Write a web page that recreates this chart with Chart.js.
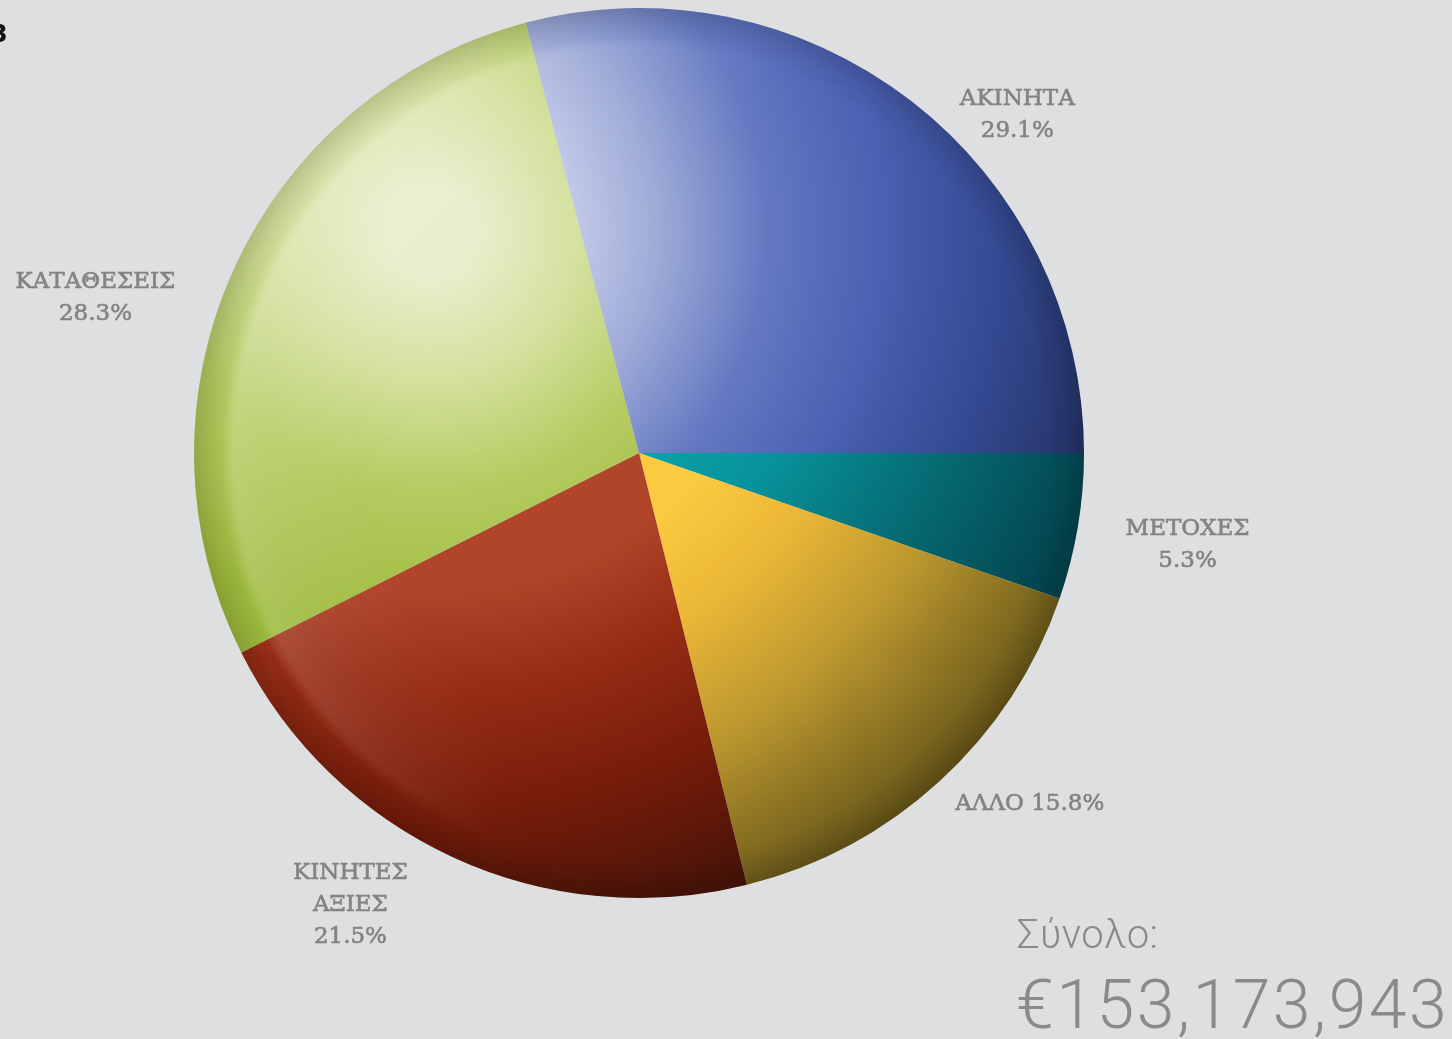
<!DOCTYPE html>
<html>
<head>
<meta charset="utf-8">
<script src="https://cdn.jsdelivr.net/npm/chart.js@4.4.1/dist/chart.umd.min.js"></script>
<style>
  html, body { margin: 0; padding: 0; background: #dedfe1; overflow: hidden; }
  #wrap { position: relative; width: 1452px; height: 1039px; }
  #myChart { position: absolute; left: 0; top: 0; }
  .corner { position: absolute; left: -9px; top: 20px; font: bold 24px "DejaVu Sans"; color: #111; }
  .total1 { position: absolute; left: 1017px; top: 911px; font: 300 40px Roboto, "Noto Sans"; color: #8a8a8a; letter-spacing: 0.5px; }
  .total2 { position: absolute; left: 1016px; top: 965px; font: 300 68px Roboto, "Noto Sans"; color: #8a8a8a; letter-spacing: 2.5px; }
</style>
</head>
<body>
<div id="wrap">
  <canvas id="myChart" width="1452" height="1039"></canvas>
  <div class="corner">3</div>
  <div class="total1">Σύνολο:</div>
  <div class="total2">€153,173,943</div>
</div>
<script>
// categories, clockwise from 3 o'clock
var categories = [['ΜΕΤΟΧΕΣ'], ['ΑΛΛΟ'], ['ΚΙΝΗΤΕΣ', 'ΑΞΙΕΣ'], ['ΚΑΤΑΘΕΣΕΙΣ'], ['ΑΚΙΝΗΤΑ']];
var shares = [5.3, 15.8, 21.5, 28.3, 29.1];

// gradient stops per slice, measured from the highlight point outward
var sliceStops = [
    [[0.40, '#0aa2a8'], [0.55, '#08929a'], [0.72, '#067078'], [0.95, '#03444e']],
    [[0.48, '#fccb40'], [0.62, '#ebb737'], [0.78, '#bc982f'], [1.0, '#675719']],
    [[0.48, '#b0452a'], [0.62, '#962c14'], [0.78, '#761c0a'], [0.95, '#4a1408']],
    [[0.06, '#e8efcd'], [0.2, '#d4e19e'], [0.35, '#b5cb60'], [0.55, '#9dba3c']],
    [[0.18, '#c5cdea'], [0.30, '#a0acd8'], [0.45, '#6479c1'], [0.60, '#4b61b2'], [0.76, '#344a92'], [0.92, '#243266']]
];

// label placement: angle nudge (deg) and distance as fraction of radius
var labelNudge = [[0, 1.25], [-5.6, 1.18], [7.9, 1.205], [-8.4, 1.27], [10.6, 1.14]];

function pieGeom(chart) {
    var a = chart.chartArea;
    var r = Math.min(a.right - a.left, a.bottom - a.top) / 2;
    return { x: (a.left + a.right) / 2, y: (a.top + a.bottom) / 2, r: r };
}

function sliceFill(context) {
    var chart = context.chart;
    if (!chart.chartArea) return '#888';
    var g = pieGeom(chart);
    var hx = g.x - 0.47 * g.r, hy = g.y - 0.5 * g.r;
    var grad = chart.ctx.createRadialGradient(hx, hy, 0, hx, hy, 1.68 * g.r);
    sliceStops[context.dataIndex].forEach(function(s) { grad.addColorStop(Math.min(s[0], 1), s[1]); });
    return grad;
}

var glossPlugin = {
    id: 'gloss',
    afterDatasetsDraw: function(chart) {
        var g = pieGeom(chart);
        var ctx = chart.ctx;
        // highlight ring, faded toward the lower right
        var off = document.createElement('canvas');
        off.width = chart.width; off.height = chart.height;
        var o = off.getContext('2d');
        var ring = o.createRadialGradient(g.x, g.y, 0, g.x, g.y, g.r);
        ring.addColorStop(0.6, 'rgba(255,255,255,0)');
        ring.addColorStop(0.84, 'rgba(255,255,255,0.14)');
        ring.addColorStop(0.91, 'rgba(255,255,255,0.2)');
        ring.addColorStop(0.94, 'rgba(255,255,255,0)');
        ring.addColorStop(1, 'rgba(255,255,255,0)');
        o.fillStyle = ring;
        o.fillRect(0, 0, off.width, off.height);
        o.globalCompositeOperation = 'destination-in';
        var ang = -160 * Math.PI / 180;
        var mask = o.createLinearGradient(g.x, g.y, g.x + Math.cos(ang) * 0.9 * g.r, g.y + Math.sin(ang) * 0.9 * g.r);
        mask.addColorStop(0, 'rgba(0,0,0,0)');
        mask.addColorStop(1, 'rgba(0,0,0,1)');
        o.fillStyle = mask;
        o.fillRect(0, 0, off.width, off.height);

        ctx.save();
        ctx.beginPath();
        ctx.arc(g.x, g.y, g.r, 0, Math.PI * 2);
        ctx.clip();
        ctx.drawImage(off, 0, 0);
        // darker rim
        var rim = ctx.createRadialGradient(g.x, g.y, 0, g.x, g.y, g.r);
        rim.addColorStop(0.92, 'rgba(0,0,0,0)');
        rim.addColorStop(0.96, 'rgba(0,0,0,0.06)');
        rim.addColorStop(1, 'rgba(0,0,0,0.14)');
        ctx.fillStyle = rim;
        ctx.fillRect(g.x - g.r, g.y - g.r, 2 * g.r, 2 * g.r);
        ctx.restore();

        // labels
        var meta = chart.getDatasetMeta(0);
        ctx.save();
        ctx.fillStyle = '#838383';
        ctx.strokeStyle = '#838383';
        ctx.lineWidth = 0.6;
        ctx.font = '23px "DejaVu Serif"';
        ctx.textAlign = 'center';
        ctx.textBaseline = 'middle';
        meta.data.forEach(function(arc, i) {
            var mid = (arc.startAngle + arc.endAngle) / 2 + labelNudge[i][0] * Math.PI / 180;
            var d = labelNudge[i][1] * g.r;
            var lx = g.x + Math.cos(mid) * d, ly = g.y + Math.sin(mid) * d;
            var pct = shares[i].toFixed(1) + '%';
            var lines = categories[i].slice();
            if (lines[0] === 'ΑΛΛΟ') lines[0] = lines[0] + ' ' + pct; else lines.push(pct);
            var lh = 32;
            var y0 = ly - (lines.length - 1) * lh / 2;
            lines.forEach(function(t, k) {
                ctx.fillText(t, lx, y0 + k * lh);
                ctx.strokeText(t, lx, y0 + k * lh);
            });
        });
        ctx.restore();
    }
};

var ctx = document.getElementById('myChart').getContext('2d');
var myChart = new Chart(ctx, {
    type: 'pie',
    data: {
        labels: categories.map(function(c) { return c.join(' '); }),
        datasets: [{
            data: shares,
            backgroundColor: sliceFill,
            borderWidth: 0
        }]
    },
    options: {
        responsive: false,
        animation: false,
        rotation: 90,
        layout: { padding: { left: 194, right: 368, top: 8, bottom: 141 } },
        plugins: {
            legend: { display: false },
            tooltip: { enabled: false }
        }
    },
    plugins: [glossPlugin]
});
</script>
</body>
</html>
